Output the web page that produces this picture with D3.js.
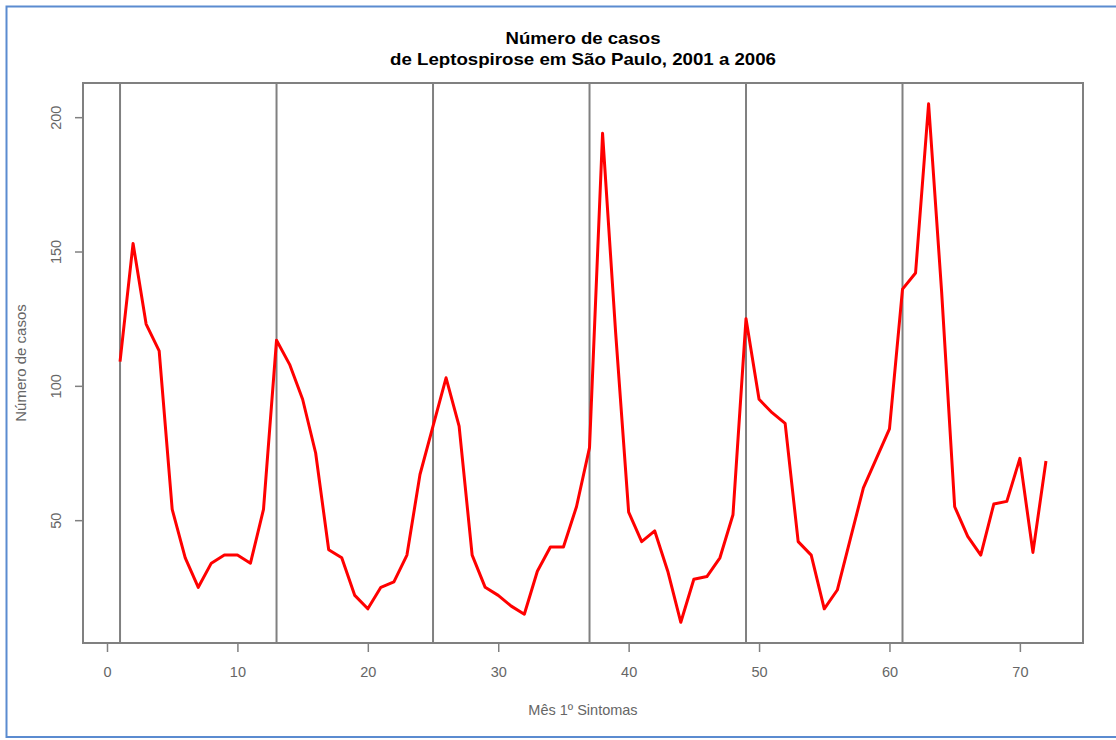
<!DOCTYPE html>
<html><head><meta charset="utf-8">
<script src="https://cdn.jsdelivr.net/npm/d3@7"></script>
<style>body{margin:0;background:#fff}svg{display:block}</style>
</head><body>
<svg id="c" width="1116" height="740"></svg>
<script>
const months = d3.range(1, 73);
const cases = [109,153,123,113,54,36,25,34,37,37,34,54,
  117,108,95,75,39,36,22,17,25,27,37,67,
  85,103,85,37,25,22,18,15,31,40,40,55,
  77,194,120,53,42,46,31,12,28,29,36,52,
  125,95,90,86,42,37,17,24,43,62,73,84,
  136,142,205,135,55,44,37,56,57,73,38,72];
const yearStarts = [1,13,25,37,49,61];
const xTicks = [0,10,20,30,40,50,60,70];
const yTicks = [50,100,150,200];
const title1 = "Número de casos";
const title2 = "de Leptospirose em São Paulo, 2001 a 2006";
const xLabel = "Mês 1º Sintomas";
const yLabel = "Número de casos";

const FONT = "Liberation Sans, Arial, sans-serif";
const svg = d3.select("#c");
const L = 83, R = 1083, T = 83, B = 643;
const xmin = d3.min(months), xmax = d3.max(months);
const xpad = (xmax - xmin) * 0.04;
const ymin = d3.min(cases), ymax = d3.max(cases);
const ypad = (ymax - ymin) * 0.04;
const x = d3.scaleLinear().domain([xmin - xpad, xmax + xpad]).range([L, R]);
const y = d3.scaleLinear().domain([ymin - ypad, ymax + ypad]).range([B, T]);

// outer frame
svg.append("rect").attr("x", 6.5).attr("y", 6.5).attr("width", 1120).attr("height", 730.5)
  .attr("fill", "none").attr("stroke", "#5b8bd0").attr("stroke-width", 2);

// year lines
svg.append("g").selectAll("line").data(yearStarts).join("line")
  .attr("x1", d => x(d)).attr("x2", d => x(d)).attr("y1", T).attr("y2", B)
  .attr("stroke", "#808080").attr("stroke-width", 2);

// data line
svg.append("path").datum(months.map((m, i) => [m, cases[i]]))
  .attr("fill", "none").attr("stroke", "#ff0000").attr("stroke-width", 3)
  .attr("stroke-linejoin", "round")
  .attr("d", d3.line().x(d => x(d[0])).y(d => y(d[1])));

// box
svg.append("rect").attr("x", L).attr("y", T).attr("width", R - L).attr("height", B - T)
  .attr("fill", "none").attr("stroke", "#808080").attr("stroke-width", 2);

// x axis
const gx = svg.append("g").attr("transform", `translate(0,${B})`)
  .call(d3.axisBottom(x).tickValues(xTicks).tickSize(9).tickPadding(15).tickFormat(d3.format("d")));
gx.select(".domain").remove();
gx.selectAll("line").attr("stroke", "#808080").attr("stroke-width", 1.5);
gx.selectAll("text").attr("fill", "#666").attr("font-family", FONT).attr("font-size", 14.5);

// y axis
const gy = svg.append("g").attr("transform", `translate(${L},0)`)
  .call(d3.axisLeft(y).tickValues(yTicks).tickSize(8).tickFormat(d3.format("d")));
gy.select(".domain").remove();
gy.selectAll("line").attr("stroke", "#808080").attr("stroke-width", 1.5);
gy.selectAll("text").attr("fill", "#666").attr("font-family", FONT).attr("font-size", 14.5)
  .attr("text-anchor", "middle").attr("x", null)
  .attr("transform", "translate(-27,0) rotate(-90)").attr("dy", "0.35em");

// titles
const tx = (L + R) / 2;
svg.append("text").attr("x", tx).attr("y", 44).attr("text-anchor", "middle")
  .attr("font-family", FONT).attr("font-weight", "bold").attr("font-size", 17)
  .attr("textLength", 155).attr("lengthAdjust", "spacingAndGlyphs").text(title1);
svg.append("text").attr("x", tx).attr("y", 65).attr("text-anchor", "middle")
  .attr("font-family", FONT).attr("font-weight", "bold").attr("font-size", 17)
  .attr("textLength", 386).attr("lengthAdjust", "spacingAndGlyphs").text(title2);
svg.append("text").attr("x", tx).attr("y", 715).attr("text-anchor", "middle").attr("fill", "#666")
  .attr("font-family", FONT).attr("font-size", 14.5).text(xLabel);
svg.append("text").attr("transform", `translate(26,${(T + B) / 2}) rotate(-90)`).attr("text-anchor", "middle").attr("fill", "#666")
  .attr("font-family", FONT).attr("font-size", 15).text(yLabel);
</script>
</body></html>
